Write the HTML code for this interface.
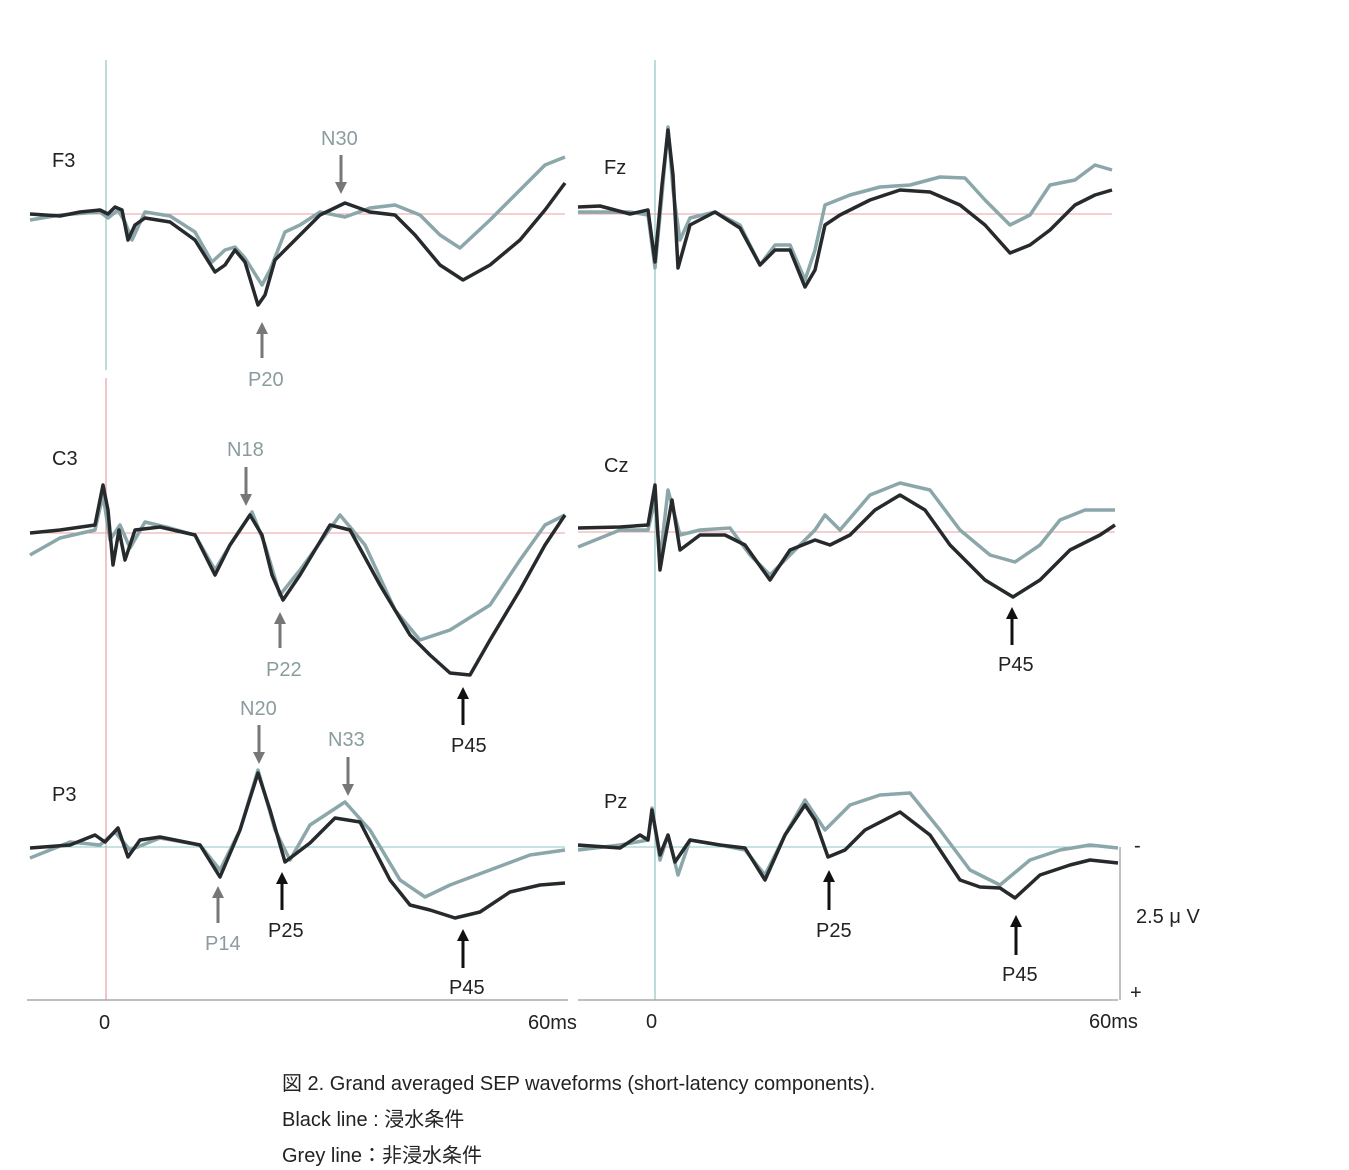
<!DOCTYPE html>
<html><head><meta charset="utf-8"><style>
body{margin:0;background:#fff}
svg{display:block}
text{font-family:"Liberation Sans","Noto Sans CJK JP",sans-serif;font-size:20px;fill:#222}
.g{fill:#8a9c9e}
.bk{fill:none;stroke:#262a2c;stroke-width:3.5;stroke-linejoin:round}
.gr{fill:none;stroke:#8ba7aa;stroke-width:3.5;stroke-linejoin:round}
</style></head><body>
<svg width="1349" height="1170" viewBox="0 0 1349 1170">
<defs>
<marker id="ag" markerWidth="4" markerHeight="4" refX="2" refY="2" orient="auto"><path d="M0,0L4,2L0,4z" fill="#777"/></marker>
<marker id="ab" markerWidth="4" markerHeight="4" refX="2" refY="2" orient="auto"><path d="M0,0L4,2L0,4z" fill="#111"/></marker>
</defs>
<!-- axes -->
<line x1="106" y1="60" x2="106" y2="370" stroke="#8fc4c4" stroke-width="1.2"/>
<line x1="106" y1="378" x2="106" y2="1000" stroke="#e8a0a0" stroke-width="1.2"/>
<line x1="655" y1="60" x2="655" y2="1000" stroke="#8fc4c4" stroke-width="1.2"/>
<line x1="30" y1="214" x2="565" y2="214" stroke="#e8a0a0" stroke-width="1"/>
<line x1="30" y1="533" x2="565" y2="533" stroke="#e8a0a0" stroke-width="1"/>
<line x1="30" y1="847" x2="565" y2="847" stroke="#8fc4c4" stroke-width="1"/>
<line x1="578" y1="214" x2="1112" y2="214" stroke="#e8a0a0" stroke-width="1"/>
<line x1="578" y1="532" x2="1115" y2="532" stroke="#e8a0a0" stroke-width="1"/>
<line x1="578" y1="847" x2="1118" y2="847" stroke="#8fc4c4" stroke-width="1"/>
<line x1="27" y1="1000" x2="568" y2="1000" stroke="#999" stroke-width="1.2"/>
<line x1="578" y1="1000" x2="1118" y2="1000" stroke="#999" stroke-width="1.2"/>
<line x1="1120" y1="847" x2="1120" y2="1000" stroke="#999" stroke-width="1.2"/>
<!-- F3 -->
<polyline class="gr" points="30,220 60,215 100,212 108,218 118,210 125,222 132,240 145,212 170,216 195,232 212,262 225,250 235,247 245,258 262,285 270,270 285,232 300,225 320,212 345,217 370,208 395,205 420,215 440,235 460,248 490,220 520,190 545,165 565,157"/>
<polyline class="bk" points="30,214 60,216 80,212 100,210 108,214 115,207 122,210 128,240 135,225 145,218 170,222 195,240 215,272 225,265 235,250 245,262 258,305 265,295 275,260 290,245 320,215 345,203 370,212 395,215 415,235 440,265 463,280 490,265 520,240 545,210 565,183"/>
<!-- C3 -->
<polyline class="gr" points="30,555 60,538 95,530 103,495 110,540 120,525 130,548 145,522 170,528 195,535 215,570 230,545 252,512 265,545 280,595 300,570 340,515 365,545 395,610 420,640 450,630 490,605 520,560 545,525 565,515"/>
<polyline class="bk" points="30,533 60,530 95,525 103,485 108,510 113,565 119,530 125,560 135,530 160,527 195,535 215,575 230,545 250,515 262,535 272,575 283,600 300,575 330,525 350,530 380,585 410,635 430,655 450,673 470,675 490,640 520,590 545,545 565,515"/>
<!-- P3 -->
<polyline class="gr" points="30,858 70,842 100,845 115,832 130,850 160,838 200,845 220,870 240,830 258,770 275,830 290,860 310,825 345,802 370,830 400,880 425,897 450,885 490,870 530,855 565,850"/>
<polyline class="bk" points="30,848 70,845 95,835 105,842 118,828 128,857 140,840 160,837 200,845 220,877 240,830 258,773 270,810 285,862 310,843 335,818 360,822 390,880 410,905 430,910 455,918 480,912 510,892 540,885 565,883"/>
<!-- Fz -->
<polyline class="gr" points="578,212 630,212 648,215 655,268 662,195 668,127 673,190 680,240 690,218 715,212 740,225 760,265 775,245 790,245 805,280 815,250 825,205 850,195 880,187 910,185 940,177 965,178 985,200 1010,225 1030,215 1050,185 1075,180 1095,165 1112,170"/>
<polyline class="bk" points="578,207 600,206 630,214 648,210 655,262 662,185 668,130 673,175 678,268 690,225 715,212 740,228 760,265 775,250 790,250 805,287 815,270 825,225 840,215 870,200 900,190 930,192 960,205 985,225 1010,253 1030,245 1050,230 1075,205 1095,195 1112,190"/>
<!-- Cz -->
<polyline class="gr" points="578,547 620,530 648,530 655,500 660,560 668,490 680,535 700,530 730,528 750,555 770,575 795,550 815,530 825,515 840,530 870,495 900,483 930,490 960,530 990,555 1015,562 1040,545 1060,520 1085,510 1115,510"/>
<polyline class="bk" points="578,528 620,527 648,525 655,485 660,570 665,540 672,500 680,550 700,535 725,535 745,545 770,580 790,550 815,540 830,545 850,535 875,510 900,495 925,510 950,545 985,580 1013,597 1040,580 1070,550 1100,535 1115,525"/>
<!-- Pz -->
<polyline class="gr" points="578,850 620,845 648,840 652,808 660,860 668,835 678,875 690,840 720,845 745,850 765,875 785,835 805,800 825,830 850,805 880,795 910,793 940,830 970,870 1000,885 1030,860 1060,850 1090,845 1118,848"/>
<polyline class="bk" points="578,845 620,848 640,835 648,840 652,810 660,855 668,835 675,862 690,840 720,845 745,848 765,880 785,835 805,805 815,820 828,857 845,850 865,830 900,812 930,835 960,880 980,887 1000,888 1015,898 1040,875 1070,865 1090,860 1118,863"/>
<!-- arrows grey -->
<g stroke="#777" stroke-width="3" marker-end="url(#ag)">
<line x1="341" y1="155" x2="341" y2="188"/>
<line x1="262" y1="358" x2="262" y2="328"/>
<line x1="246" y1="467" x2="246" y2="500"/>
<line x1="280" y1="648" x2="280" y2="618"/>
<line x1="259" y1="725" x2="259" y2="758"/>
<line x1="348" y1="757" x2="348" y2="790"/>
<line x1="218" y1="923" x2="218" y2="892"/>
</g>
<g stroke="#111" stroke-width="3" marker-end="url(#ab)">
<line x1="463" y1="725" x2="463" y2="693"/>
<line x1="282" y1="910" x2="282" y2="878"/>
<line x1="463" y1="968" x2="463" y2="935"/>
<line x1="1012" y1="645" x2="1012" y2="613"/>
<line x1="829" y1="910" x2="829" y2="876"/>
<line x1="1016" y1="955" x2="1016" y2="921"/>
</g>
<!-- labels -->
<text x="52" y="167">F3</text><text x="604" y="174">Fz</text>
<text x="52" y="465">C3</text><text x="604" y="472">Cz</text>
<text x="52" y="801">P3</text><text x="604" y="808">Pz</text>
<text class="g" x="321" y="145">N30</text>
<text class="g" x="248" y="386">P20</text>
<text class="g" x="227" y="456">N18</text>
<text class="g" x="266" y="676">P22</text>
<text class="g" x="240" y="715">N20</text>
<text class="g" x="328" y="746">N33</text>
<text class="g" x="205" y="950">P14</text>
<text x="451" y="752">P45</text>
<text x="268" y="937">P25</text>
<text x="449" y="994">P45</text>
<text x="998" y="671">P45</text>
<text x="816" y="937">P25</text>
<text x="1002" y="981">P45</text>
<text x="99" y="1029">0</text><text x="528" y="1029">60ms</text>
<text x="646" y="1028">0</text><text x="1089" y="1028">60ms</text>
<text x="1134" y="852" font-size="14">-</text>
<text x="1130" y="999" font-size="14">+</text>
<text x="1136" y="923">2.5 μ V</text>
<text x="282" y="1090">図 2. Grand averaged SEP waveforms (short-latency components).</text>
<text x="282" y="1126">Black line : 浸水条件</text>
<text x="282" y="1162">Grey line：非浸水条件</text>
</svg>
</body></html>
